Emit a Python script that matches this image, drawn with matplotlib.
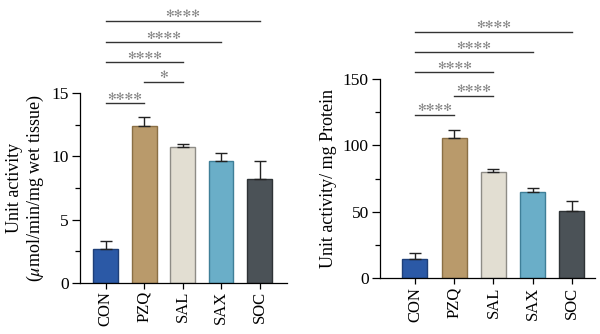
import matplotlib
matplotlib.use("Agg")
import matplotlib.pyplot as plt
import numpy as np

categories = ["CON", "PZQ", "SAL", "SAX", "SOC"]
left_means = [2.64, 12.44, 10.77, 9.66, 8.21]
left_err = [0.69, 0.66, 0.23, 0.64, 1.40]
right_means = [14.8, 105.8, 80.3, 64.7, 50.4]
right_err = [4.0, 5.6, 2.0, 3.3, 7.8]
left_sig = [(0, 1, 14.2, "****"), (1, 2, 15.92, "*"), (0, 2, 17.45, "****"),
            (0, 3, 19.04, "****"), (0, 4, 20.75, "****")]
right_sig = [(0, 1, 122.9, "****"), (1, 2, 137.4, "****"), (0, 2, 155.0, "****"),
             (0, 3, 170.0, "****"), (0, 4, 185.6, "****")]

fills = ["#2b59a6", "#b99a6b", "#e2ded2", "#6aaec8", "#4b5257"]
edges = ["#1e3f78", "#8a6f45", "#8e8c86", "#3f7f98", "#2e3336"]

plt.rcParams["font.family"] = ["Liberation Serif", "DejaVu Serif"]
plt.rcParams["mathtext.fontset"] = "stix"

fig = plt.figure(figsize=(6.0, 3.34), dpi=100)


def draw(ax, means, errs, sig, ylim, major, minor, ylabel, xlim):
    x = np.arange(len(categories))
    ax.bar(x, means, width=0.64, color=fills, edgecolor=edges, linewidth=1.0, zorder=2)
    ax.errorbar(x, means, yerr=[np.zeros(len(errs)), errs], fmt="none",
                ecolor="#222222", elinewidth=1.0, capsize=4.5, capthick=1.0, zorder=3)
    ax.set_xlim(*xlim)
    ax.set_ylim(*ylim)
    ax.set_yticks(major)
    ax.set_yticks(minor, minor=True)
    ax.set_xticks(x)
    ax.set_xticklabels(categories, rotation=90, fontsize=12)
    ax.tick_params(axis="y", which="major", length=6, width=0.9, labelsize=12.5, pad=2)
    ax.tick_params(axis="y", which="minor", length=3.5, width=0.9)
    ax.tick_params(axis="x", length=4, width=0.9, pad=2)
    for s in ["top", "right"]:
        ax.spines[s].set_visible(False)
    ax.spines["left"].set_linewidth(0.9)
    ax.spines["bottom"].set_linewidth(0.9)
    ax.set_ylabel(ylabel, fontsize=13, labelpad=4, linespacing=1.15)
    span = ylim[1] - ylim[0]
    for a, b, y, txt in sig:
        ax.plot([a, b], [y, y], color="#333333", lw=1.0, clip_on=False)
        ax.text((a + b) / 2, y + span * 0.008, "\u273B" * len(txt), ha="center", va="bottom",
                fontsize=7.5, color="#808080", family="DejaVu Sans", clip_on=False)


ax1 = fig.add_axes([0.1333, 0.1536, 0.3450, 0.5671])
draw(ax1, left_means, left_err, left_sig, (0, 15), [0, 5, 10, 15], [2.5, 7.5, 12.5],
     "Unit activity\n($\\mu$mol/min/mg wet tissue)", (-0.67, 4.71))

ax2 = fig.add_axes([0.6333, 0.1667, 0.3584, 0.5967])
draw(ax2, right_means, right_err, right_sig, (0, 150), [0, 50, 100, 150], [25, 75, 125],
     "Unit activity/ mg Protein", (-0.89, 4.59))

fig.savefig("out.png", dpi=100)
